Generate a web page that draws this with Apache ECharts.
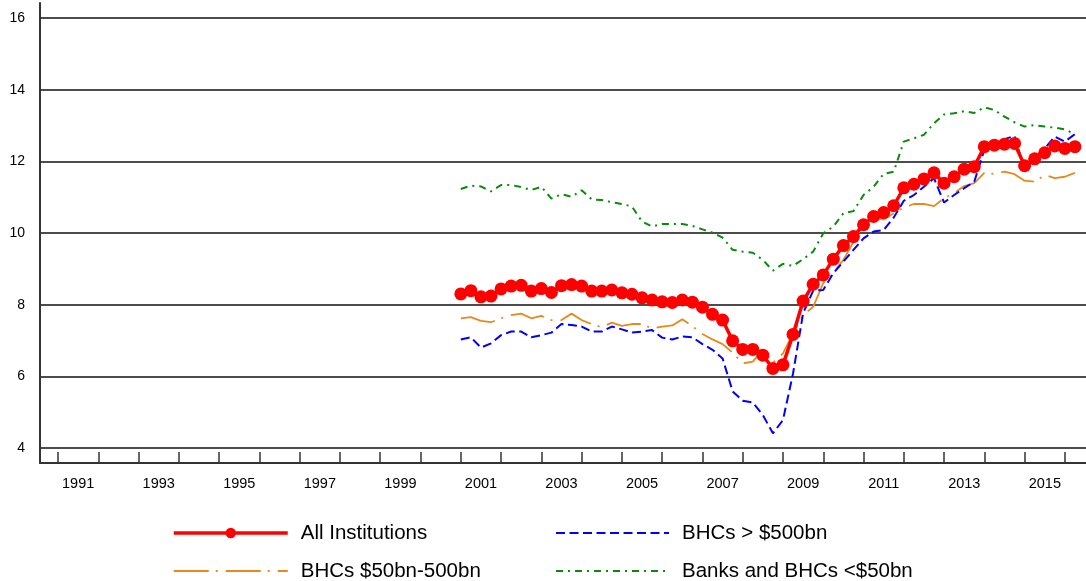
<!DOCTYPE html>
<html>
<head>
<meta charset="utf-8">
<script src="https://cdn.jsdelivr.net/npm/echarts@6/dist/echarts.min.js"></script>
<style>
  html, body { margin: 0; padding: 0; background: #fff; }
  #chart { width: 1086px; height: 581px; }
</style>
</head>
<body>
<div id="chart"></div>
<script>
// Quarterly observations, 2001Q1 .. 2016Q2
const firstYear = 2001;

// Year labels shown under the axis (one band per year)
const yearLabels = ['1991','1992','1993','1994','1995','1996','1997','1998','1999','2000',
  '2001','2002','2003','2004','2005','2006','2007','2008','2009','2010',
  '2011','2012','2013','2014','2015'];

const allInstitutions = [
  8.30, 8.39, 8.22, 8.24, 8.44, 8.52, 8.54, 8.38, 8.45, 8.34,
  8.53, 8.56, 8.52, 8.38, 8.38, 8.41, 8.33, 8.29, 8.19, 8.13,
  8.08, 8.06, 8.13, 8.07, 7.93, 7.73, 7.57, 6.99, 6.75, 6.75,
  6.59, 6.22, 6.32, 7.17, 8.10, 8.57, 8.83, 9.27, 9.65, 9.90,
  10.23, 10.46, 10.57, 10.76, 11.26, 11.36, 11.51, 11.68, 11.39, 11.57,
  11.78, 11.85, 12.41, 12.45, 12.48, 12.50, 11.88, 12.07, 12.24, 12.43,
  12.36, 12.41
];

const bhcsOver500 = [
  7.03, 7.09, 6.80, 6.92, 7.15, 7.25, 7.25, 7.09, 7.15, 7.22,
  7.46, 7.43, 7.39, 7.25, 7.25, 7.39, 7.31, 7.22, 7.25, 7.29,
  7.08, 7.03, 7.11, 7.09, 6.90, 6.74, 6.50, 5.58, 5.32, 5.27,
  4.92, 4.41, 4.78, 6.08, 7.76, 8.39, 8.41, 8.88, 9.20, 9.53,
  9.85, 10.04, 10.08, 10.43, 10.90, 11.06, 11.29, 11.53, 10.85, 11.06,
  11.25, 11.43, 12.32, 12.48, 12.62, 12.71, 11.76, 12.08, 12.36, 12.69,
  12.55, 12.76
];

const bhcs50to500 = [
  7.62, 7.65, 7.55, 7.51, 7.62, 7.71, 7.75, 7.62, 7.69, 7.57,
  7.57, 7.75, 7.57, 7.46, 7.37, 7.50, 7.41, 7.46, 7.46, 7.33,
  7.39, 7.42, 7.59, 7.40, 7.18, 7.03, 6.90, 6.66, 6.36, 6.41,
  6.74, 6.38, 6.64, 7.20, 7.71, 7.94, 8.60, 8.90, 9.25, 9.75,
  10.27, 10.43, 10.38, 10.55, 10.71, 10.81, 10.81, 10.75, 10.97, 11.11,
  11.31, 11.39, 11.68, 11.65, 11.71, 11.64, 11.46, 11.43, 11.62, 11.53,
  11.57, 11.68
];

const banksUnder50 = [
  11.23, 11.32, 11.30, 11.16, 11.34, 11.34, 11.28, 11.20, 11.29, 10.96,
  11.08, 11.01, 11.19, 10.94, 10.92, 10.86, 10.81, 10.74, 10.32, 10.18,
  10.25, 10.25, 10.25, 10.20, 10.10, 10.01, 9.87, 9.53, 9.48, 9.45,
  9.25, 8.95, 9.14, 9.08, 9.27, 9.48, 9.99, 10.18, 10.55, 10.61,
  11.06, 11.29, 11.65, 11.71, 12.55, 12.64, 12.74, 13.06, 13.31, 13.34,
  13.40, 13.35, 13.51, 13.43, 13.25, 13.09, 12.97, 13.01, 12.97, 12.94,
  12.89, 12.76
];

// quarter i sits at the start of its quarter on the time axis
function quarterTime(i) {
  return firstYear + Math.floor(i / 4) + (i % 4) / 4;
}
function pairs(values) {
  return values.map((v, i) => [quarterTime(i), v]);
}

const FONT = 'Liberation Sans, Arial, Helvetica, sans-serif';
const AXIS_DARK = '#333333';

const legendText = { color: '#000', fontSize: 20.5, fontFamily: FONT, lineHeight: 22, padding: [0, 0, 0, 8] };

const chart = echarts.init(document.getElementById('chart'), null, { renderer: 'canvas' });

chart.setOption({
  animation: false,
  backgroundColor: '#ffffff',
  textStyle: { fontFamily: FONT },
  grid: [
    // plotting area
    { left: 40, right: 0, top: 18, bottom: 133 },
    // frame: vertical axis line and bottom axis line
    { left: 40, right: 0, top: 3, bottom: 118 },
    // year ticks and labels
    { left: 58, right: 21, top: 3, bottom: 118 }
  ],
  xAxis: [
    { gridIndex: 0, type: 'value', min: 1990.55, max: 2016.525, show: false },
    { gridIndex: 1, type: 'value', min: 0, max: 1,
      axisLine: { show: true, onZero: false, lineStyle: { color: AXIS_DARK, width: 2 } },
      axisTick: { show: false }, axisLabel: { show: false }, splitLine: { show: false } },
    { gridIndex: 2, type: 'category', data: yearLabels, boundaryGap: true,
      axisLine: { show: false },
      axisTick: { show: true, inside: true, length: 11, interval: 0,
        lineStyle: { color: AXIS_DARK, width: 1.5 } },
      axisLabel: { interval: 1, color: '#000', fontSize: 14.5, fontFamily: FONT, margin: 13 },
      splitLine: { show: false } }
  ],
  yAxis: [
    { gridIndex: 0, type: 'value', min: 4, max: 16, interval: 2,
      axisLine: { show: false }, axisTick: { show: false },
      axisLabel: { color: '#000', fontSize: 14, fontFamily: FONT, margin: 15 },
      splitLine: { show: true, lineStyle: { color: '#111111', width: 1.6 } } },
    { gridIndex: 1, type: 'value', min: 0, max: 1,
      axisLine: { show: true, onZero: false, lineStyle: { color: AXIS_DARK, width: 2 } },
      axisTick: { show: false }, axisLabel: { show: false }, splitLine: { show: false } },
    { gridIndex: 2, type: 'value', show: false }
  ],
  legend: [
    {
      orient: 'vertical', left: 172, top: 522, height: 100, padding: 0,
      itemWidth: 114, itemHeight: 13, itemGap: 16,
      selectedMode: false,
      textStyle: legendText,
      data: [
        { name: 'All Institutions', lineStyle: { width: 'inherit' } },
        { name: 'BHCs $50bn-500bn', lineStyle: { width: 'inherit' }, itemStyle: { opacity: 0 } }
      ]
    },
    {
      orient: 'vertical', left: 555, top: 522, height: 100, padding: 0,
      itemWidth: 113, itemHeight: 13, itemGap: 16,
      selectedMode: false,
      textStyle: legendText,
      data: [
        { name: 'BHCs > $500bn', lineStyle: { width: 'inherit' }, itemStyle: { opacity: 0 } },
        { name: 'Banks and BHCs <$50bn', lineStyle: { width: 'inherit' }, itemStyle: { opacity: 0 } }
      ]
    }
  ],
  series: [
    {
      name: 'Banks and BHCs <$50bn', type: 'line', xAxisIndex: 0, yAxisIndex: 0,
      data: pairs(banksUnder50), symbol: 'none', z: 2,
      lineStyle: { color: '#0a8a0a', width: 2, type: [7, 5, 2, 5] },
      itemStyle: { color: '#0a8a0a' }
    },
    {
      name: 'BHCs $50bn-500bn', type: 'line', xAxisIndex: 0, yAxisIndex: 0,
      data: pairs(bhcs50to500), symbol: 'none', z: 3,
      lineStyle: { color: '#e8891c', width: 1.8, type: [35, 7, 2, 8] },
      itemStyle: { color: '#e8891c' }
    },
    {
      name: 'BHCs > $500bn', type: 'line', xAxisIndex: 0, yAxisIndex: 0,
      data: pairs(bhcsOver500), symbol: 'none', z: 4,
      lineStyle: { color: '#0000ff', width: 2, type: [9, 4.5] },
      itemStyle: { color: '#0000ff' }
    },
    {
      name: 'All Institutions', type: 'line', xAxisIndex: 0, yAxisIndex: 0,
      data: pairs(allInstitutions), symbol: 'circle', symbolSize: 13, z: 5,
      lineStyle: { color: '#ff0000', width: 3.5 },
      itemStyle: { color: '#ff0000', borderWidth: 0 }
    }
  ]
});
</script>
</body>
</html>
